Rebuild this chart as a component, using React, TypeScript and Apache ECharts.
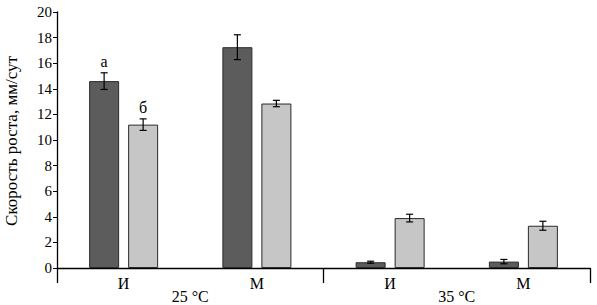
import React, { useEffect, useRef } from "react";
import * as echarts from "echarts";

const categories = ["И", "М", "И", "М"];
const groups = ["25 °C", "35 °C"];
const darkValues = [14.6, 17.25, 0.45, 0.5];
const darkErrors = [0.65, 0.97, 0.08, 0.17];
const lightValues = [11.2, 12.85, 3.9, 3.3];
const lightErrors = [0.45, 0.25, 0.3, 0.35];
const darkMarks = ["а", "", "", ""];
const lightMarks = ["б", "", "", ""];
const yTicks = { min: 0, max: 20, interval: 2 };

const FONT = "Liberation Serif";
const BAR_W = 30;
const OFFSET = 19.5;

function errSeries(values: number[], errors: number[], side: number) {
  return {
    type: "custom",
    xAxisIndex: 0,
    yAxisIndex: 0,
    z: 10,
    data: values.map((v, i) => [i, v - errors[i], v + errors[i]]),
    renderItem: (params: any, api: any) => {
      const i = api.value(0);
      const lo = api.coord([i, api.value(1)]);
      const hi = api.coord([i, api.value(2)]);
      const x = lo[0] + side * OFFSET;
      const c = 3.5;
      const style = { stroke: "#000", lineWidth: 1.2 };
      return {
        type: "group",
        children: [
          { type: "line", shape: { x1: x, y1: lo[1], x2: x, y2: hi[1] }, style },
          { type: "line", shape: { x1: x - c, y1: lo[1], x2: x + c, y2: lo[1] }, style },
          { type: "line", shape: { x1: x - c, y1: hi[1], x2: x + c, y2: hi[1] }, style },
        ],
      };
    },
  };
}

export default function App() {
  const ref = useRef<HTMLDivElement>(null);
  useEffect(() => {
    document.body.style.margin = "0";
    if (!ref.current) return;
    const chart = echarts.init(ref.current, null, { renderer: "svg" });
    chart.setOption({
      animation: false,
      backgroundColor: "#fff",
      textStyle: { fontFamily: FONT },
      grid: { left: 57, right: 7, top: 12, bottom: 37 },
      xAxis: [
        {
          type: "category",
          data: categories,
          axisLine: { show: true, lineStyle: { color: "#000", width: 1.3 } },
          axisTick: { show: false },
          axisLabel: { color: "#000", fontFamily: FONT, fontSize: 16, margin: 7 },
        },
        {
          type: "category",
          data: groups,
          position: "bottom",
          axisLine: { show: false },
          axisTick: { show: true, length: 15, lineStyle: { color: "#000", width: 1.3 } },
          axisLabel: { color: "#000", fontFamily: FONT, fontSize: 16, margin: 20 },
        },
      ],
      yAxis: {
        type: "value",
        min: yTicks.min,
        max: yTicks.max,
        interval: yTicks.interval,
        splitLine: { show: false },
        axisLine: { show: true, lineStyle: { color: "#000", width: 1.3 } },
        axisTick: { show: true, length: 4, lineStyle: { color: "#000" } },
        axisLabel: { color: "#000", fontFamily: FONT, fontSize: 15, margin: 5 },
      },
      graphic: [
        {
          type: "text",
          x: 11,
          y: 141,
          rotation: Math.PI / 2,
          style: {
            text: "Скорость роста, мм/сут",
            fontFamily: FONT,
            fontSize: 17,
            fill: "#000",
            align: "center",
            verticalAlign: "middle",
          },
        },
      ],
      series: [
        {
          type: "bar",
          xAxisIndex: 0,
          barWidth: BAR_W,
          barGap: "30%",
          itemStyle: { color: "#5c5c5c", borderColor: "#2a2a2a", borderWidth: 1 },
          data: darkValues.map((v, i) => ({
            value: v,
            label: {
              show: !!darkMarks[i],
              position: "top",
              distance: 12,
              formatter: darkMarks[i],
              color: "#000",
              fontFamily: FONT,
              fontSize: 16,
            },
          })),
        },
        {
          type: "bar",
          xAxisIndex: 0,
          barWidth: BAR_W,
          barGap: "30%",
          itemStyle: { color: "#c6c6c6", borderColor: "#2a2a2a", borderWidth: 1 },
          data: lightValues.map((v, i) => ({
            value: v,
            label: {
              show: !!lightMarks[i],
              position: "top",
              distance: 9,
              formatter: lightMarks[i],
              color: "#000",
              fontFamily: FONT,
              fontSize: 16,
            },
          })),
        },
        errSeries(darkValues, darkErrors, -1),
        errSeries(lightValues, lightErrors, 1),
      ],
    });
    return () => chart.dispose();
  }, []);
  return <div ref={ref} style={{ width: 597, height: 305 }} />;
}
